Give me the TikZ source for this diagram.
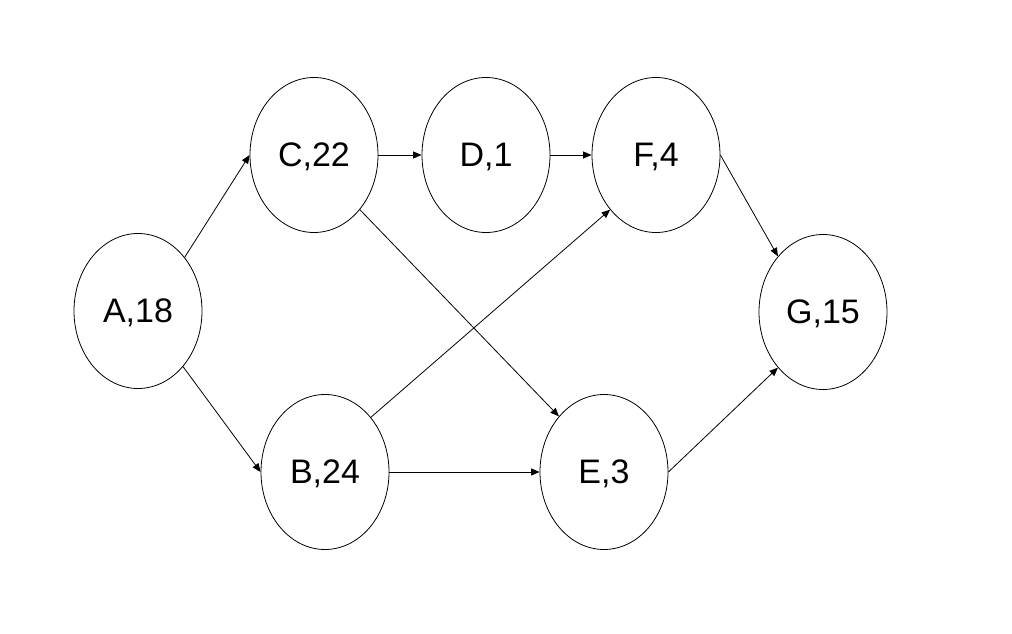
\documentclass[tikz,border=0pt]{standalone}
\usepackage{fontspec}
\setmainfont{Liberation Sans}
\usetikzlibrary{shapes.geometric,arrows.meta}
\begin{document}
\begin{tikzpicture}[x=1pt,y=-1pt,
  task/.style={ellipse,draw=black,line width=0.8pt,minimum width=128pt,minimum height=155pt,inner sep=0pt,text depth=0pt,font=\fontsize{34}{40}\selectfont},
  link/.style={line width=0.8pt,-{Triangle[length=8.5pt,width=7pt]}}]
\useasboundingbox (0,0) rectangle (1012,634);
\node[task] (A) at (138,311) {A,18};
\node[task] (C) at (314,155) {C,22};
\node[task] (D) at (486,155) {D,1};
\node[task] (F) at (656,155) {F,4};
\node[task] (G) at (823,312) {G,15};
\node[task] (B) at (325,472) {B,24};
\node[task] (E) at (604,472) {E,3};
\draw[link] (A.49) -- (C.west);
\draw[link] (A.-51) -- (B.west);
\draw[link] (C.east) -- (D.west);
\draw[link] (D.east) -- (F.west);
\draw[link] (C.-50) -- (E.129);
\draw[link] (B.50) -- (F.230);
\draw[link] (B.east) -- (E.west);
\draw[link] (F.east) -- (G.129);
\draw[link] (E.east) -- (G.231);
\end{tikzpicture}
\end{document}
